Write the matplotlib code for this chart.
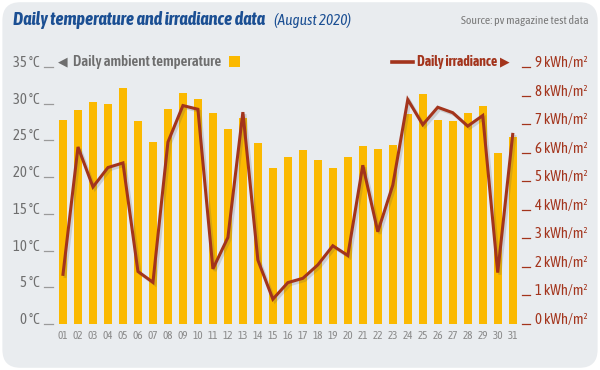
import numpy as np
import matplotlib
matplotlib.use("Agg")
import matplotlib.pyplot as plt
import matplotlib.patheffects as pe
import matplotlib.transforms as mtransforms
from matplotlib.patches import FancyBboxPatch

plt.rcParams['font.family'] = ['Asap Condensed', 'Liberation Sans', 'DejaVu Sans']

# Daten (August 2020)
days = ["%02d" % d for d in range(1, 32)]
temperature = [27.8, 29.1, 30.3, 29.9, 32.1, 27.6, 24.8, 29.3, 31.4, 30.6,
               28.7, 26.6, 28.1, 24.6, 21.3, 22.8, 23.7, 22.3, 21.2, 22.8,
               24.3, 23.9, 24.4, 28.6, 31.3, 27.8, 27.6, 28.7, 29.7, 23.3, 25.5]
irradiance = [1.74, 6.20, 4.80, 5.48, 5.64, 1.84, 1.46, 6.37, 7.65, 7.52,
              1.93, 3.03, 7.42, 2.24, 0.87, 1.45, 1.60, 2.07, 2.74, 2.40,
              5.56, 3.23, 4.86, 7.86, 6.98, 7.59, 7.40, 6.93, 7.30, 1.80, 6.64]
temp_ticks = [0, 5, 10, 15, 20, 25, 30, 35]
irr_ticks = [0, 1, 2, 3, 4, 5, 6, 7, 8, 9]

BG = '#e9ecef'
YELLOW = '#fbb900'
RED = '#a3341c'
GREY = '#6e6e6e'
BLUE = '#1b4f93'

fig = plt.figure(figsize=(6, 3.7), dpi=100)
fig.patch.set_facecolor('white')
panel = FancyBboxPatch((0.004, 0.006), 0.992, 0.988,
                       boxstyle="round,pad=0,rounding_size=0.03",
                       transform=fig.transFigure, facecolor=BG, edgecolor='none',
                       mutation_aspect=600 / 370, zorder=-10)
fig.patches.append(panel)

ax = fig.add_axes([0.09, 0.1243, 0.7795, 0.6946])
ax.set_facecolor('none')
x = np.arange(1, 32)
ax.bar(x, temperature, width=0.54, color=YELLOW, zorder=2)
ax.set_xlim(0.4, 31.6)
ax.set_ylim(0, 35)
ax.set_xticks(x)
ax.set_xticklabels(days)
ax.tick_params(axis='x', length=0, pad=4, labelsize=8, colors='#8a8a8a')
ax.set_yticks(temp_ticks)
ax.set_yticklabels([])
ax.tick_params(axis='y', length=0)
for s in ax.spines.values():
    s.set_visible(False)

ax2 = ax.twinx()
ax2.plot(x, irradiance, color=RED, lw=2.2, zorder=3, solid_joinstyle='miter',
         path_effects=[pe.SimpleLineShadow(offset=(1.5, -1.5), alpha=0.2, shadow_color='#555555'),
                       pe.Normal()])
ax2.set_ylim(0, 9)
ax2.set_yticks(irr_ticks)
ax2.set_yticklabels([])
ax2.tick_params(axis='y', length=0)
for s in ax2.spines.values():
    s.set_visible(False)

# linke Achse: Beschriftung und kleine Striche
tl = mtransforms.blended_transform_factory(ax.transAxes, ax.transData)
for t in temp_ticks:
    ax.text(-0.030, t, "%d °C" % t, transform=tl, ha='right', va='baseline',
            fontsize=10.5, color=GREY)
    ax.plot([-0.021, -0.003], [t, t], transform=tl, color='#9a9a9a', lw=0.9, clip_on=False)

# rechte Achse
tr = mtransforms.blended_transform_factory(ax2.transAxes, ax2.transData)
for t in irr_ticks:
    ax2.text(1.029, t, "%d kWh/m²" % t, transform=tr, ha='left', va='baseline',
             fontsize=10.5, color=RED)
    ax2.plot([1.001, 1.018], [t, t], transform=tr, color=RED, lw=0.9, clip_on=False)

# Legende in der obersten Zeile
def px(xp, yp):
    return xp / 600, 1 - yp / 370

fig.text(*px(58, 62), "◀", family='DejaVu Sans', fontsize=9, color=GREY, va='center')
fig.text(*px(73, 62), "Daily ambient temperature", fontsize=10.7, fontweight='semibold',
         color=GREY, va='center')
fig.patches.append(plt.Rectangle(px(229, 67), 11 / 600, 11 / 370, transform=fig.transFigure,
                                 facecolor=YELLOW, edgecolor='none', zorder=5))
fig.lines.append(plt.Line2D([392 / 600, 413 / 600], [1 - 62 / 370, 1 - 62 / 370],
                            transform=fig.transFigure, color=RED, lw=2.6))
fig.text(*px(417, 62), "Daily irradiance", fontsize=10, fontweight='bold',
         color=RED, va='center')
fig.text(*px(500, 62), "▶", family='DejaVu Sans', fontsize=9, color=RED, va='center')

# Titel
fig.text(*px(13, 20), "Daily temperature and irradiance data", fontsize=13,
         fontweight='bold', style='italic', color=BLUE, va='center')
fig.text(*px(274, 20), "(August 2020)", fontsize=11, style='italic', color=BLUE, va='center')
fig.text(*px(589, 20), "Source: pv magazine test data", fontsize=8.5, color='#7a7a7a',
         ha='right', va='center')

fig.savefig('out.png', dpi=100, facecolor=fig.get_facecolor())
